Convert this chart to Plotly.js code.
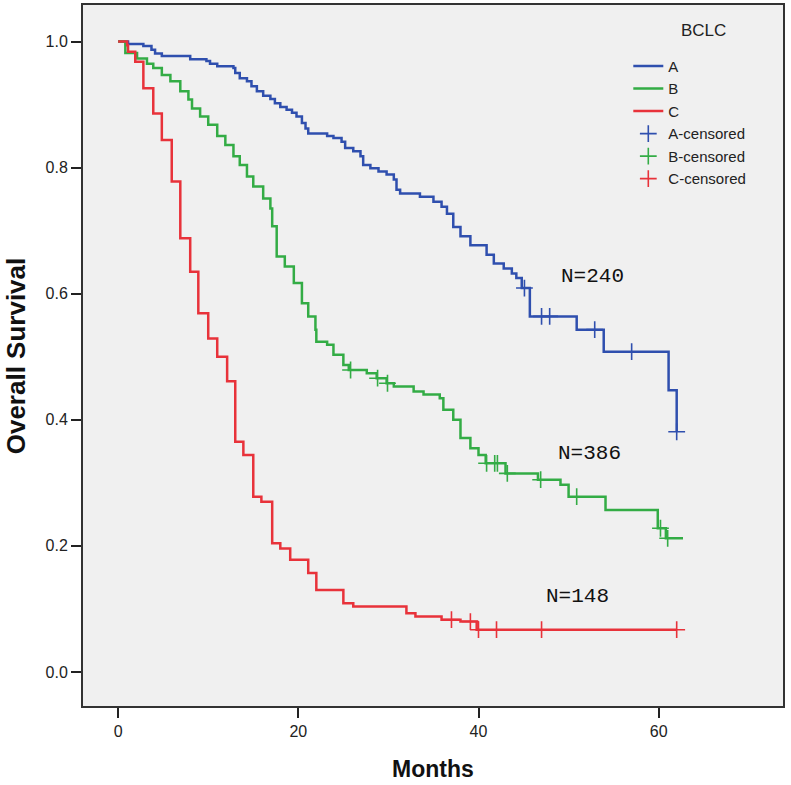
<!DOCTYPE html>
<html>
<head>
<meta charset="utf-8">
<script src="https://cdn.plot.ly/plotly-3.0.1.min.js"></script>
<style>
  body { margin: 0; background: #fff; }
  #chart { width: 791px; height: 785px; }
</style>
</head>
<body>
<div id="chart"></div>
<script>
// Kaplan-Meier estimates (months, survival)
var timesA = [0, 1.1, 2.8, 3.7, 4.1, 4.85, 8.0, 9.8, 10.2, 11.0, 12.8, 13.0, 13.5, 14.3, 14.8, 15.4, 16.1, 16.9, 17.4, 18.0,
              18.7, 19.3, 19.8, 20.4, 20.8, 21.1, 23.2, 23.9, 24.8, 25.2, 26.1, 26.9, 27.2, 28.0, 28.9, 29.8, 30.6, 30.9, 31.3, 33.5,
              35.0, 35.9, 36.5, 37.2, 38.0, 39.1, 40.9, 41.7, 42.8, 43.7, 44.2, 44.8, 45.7, 50.9, 53.9, 61.1, 62.0];
var survA  = [1.0, 0.996, 0.993, 0.987, 0.981, 0.977, 0.972, 0.969, 0.965, 0.961, 0.958, 0.950, 0.942, 0.937, 0.929, 0.921, 0.914, 0.909, 0.902, 0.896,
              0.892, 0.887, 0.881, 0.871, 0.862, 0.854, 0.850, 0.847, 0.841, 0.831, 0.826, 0.818, 0.804, 0.799, 0.794, 0.789, 0.781, 0.765, 0.759, 0.754,
              0.746, 0.738, 0.727, 0.706, 0.691, 0.677, 0.662, 0.648, 0.640, 0.632, 0.625, 0.609, 0.564, 0.543, 0.508, 0.447, 0.381];
var censA  = [45.1, 47.0, 47.9, 52.9, 57.0, 62.0];

var timesB = [0, 0.8, 2.1, 3.2, 3.9, 4.85, 5.8, 6.9, 7.8, 8.2, 9.1, 10.0, 11.0, 11.9, 12.8, 13.5, 14.3, 15.0, 16.1, 16.9,
              17.1, 17.6, 18.5, 19.5, 20.4, 21.1, 21.9, 22.0, 23.2, 23.9, 25.0, 25.6, 27.6, 28.7, 29.8, 30.6, 32.8, 33.9, 35.7, 36.1,
              37.2, 38.0, 39.1, 40.0, 40.8, 43.0, 46.6, 49.1, 50.0, 54.1, 59.9, 60.8, 62.7];
var survB  = [1.0, 0.982, 0.973, 0.965, 0.958, 0.947, 0.937, 0.921, 0.908, 0.894, 0.881, 0.868, 0.850, 0.836, 0.818, 0.804, 0.786, 0.770, 0.751, 0.735,
              0.707, 0.659, 0.643, 0.617, 0.585, 0.564, 0.543, 0.524, 0.519, 0.503, 0.487, 0.479, 0.474, 0.466, 0.458, 0.453, 0.445, 0.440, 0.434, 0.416,
              0.400, 0.371, 0.355, 0.344, 0.331, 0.315, 0.305, 0.297, 0.278, 0.257, 0.228, 0.212, 0.212];
var censB  = [25.8, 28.8, 29.9, 40.9, 41.8, 42.1, 43.2, 46.9, 50.9, 60.2, 61.0];

var timesC = [0, 1.0, 1.1, 1.9, 2.8, 3.9, 4.85, 5.95, 6.9, 8.0, 8.9, 10.0, 11.0, 12.1, 13.0, 13.9, 15.0, 15.9, 17.1, 18.0,
              19.1, 21.1, 22.0, 25.0, 26.1, 32.0, 33.0, 35.9, 38.0, 39.8, 62.0];
var survC  = [1.0, 0.994, 0.984, 0.968, 0.926, 0.886, 0.844, 0.778, 0.688, 0.635, 0.569, 0.529, 0.500, 0.461, 0.365, 0.344, 0.278, 0.270, 0.204, 0.196,
              0.178, 0.157, 0.130, 0.109, 0.104, 0.093, 0.088, 0.083, 0.080, 0.067, 0.067];
var censC  = [37.0, 39.1, 40.0, 42.0, 47.0, 62.0];

var groups = ['A', 'B', 'C'];
var nLabels = ['N=240', 'N=386', 'N=148'];
var colors = ['#2f4fae', '#33ac45', '#e8323a'];

// survival value of a step curve at time tt
function stepAt(t, s, tt) {
    var v = s[0];
    for (var i = 0; i < t.length; i++) {
        if (t[i] <= tt) v = s[i];
    }
    return v;
}

var curves = [[timesA, survA, censA], [timesB, survB, censB], [timesC, survC, censC]];
var data = [];

curves.forEach(function (c, i) {
    data.push({
        type: 'scatter', mode: 'lines', name: groups[i],
        x: c[0], y: c[1],
        line: {shape: 'hv', color: colors[i], width: 2.5}
    });
});
curves.forEach(function (c, i) {
    data.push({
        type: 'scatter', mode: 'markers', name: groups[i] + '-censored',
        x: c[2], y: c[2].map(function (tt) { return stepAt(c[0], c[1], tt); }),
        marker: {symbol: 'cross-thin', size: 12, line: {color: colors[i], width: 1.6}}
    });
});

var font = 'Liberation Sans, Arial, sans-serif';

var layout = {
    width: 791, height: 785,
    margin: {l: 83, r: 8, t: 5, b: 79},
    paper_bgcolor: '#ffffff',
    plot_bgcolor: '#f0f0f0',
    font: {family: font, color: '#222'},
    showlegend: true,
    xaxis: {
        range: [-3.9, 73.8],
        tickvals: [0, 20, 40, 60],
        ticks: 'outside', ticklen: 10, tickwidth: 2, tickcolor: '#222',
        showline: true, mirror: true, linecolor: '#333', linewidth: 2,
        showgrid: false, zeroline: false,
        tickfont: {size: 16, color: '#222'},
        title: {text: 'Months', font: {size: 23, weight: 'bold', color: '#111'}, standoff: 22}
    },
    yaxis: {
        range: [-0.054, 1.058],
        tickvals: [0, 0.2, 0.4, 0.6, 0.8, 1.0],
        tickformat: '.1f',
        ticks: 'outside', ticklen: 10, tickwidth: 2, tickcolor: '#222',
        showline: true, mirror: true, linecolor: '#333', linewidth: 2,
        showgrid: false, zeroline: false,
        tickfont: {size: 16, color: '#222'}
    },
    legend: {
        x: 0.779, y: 0.936, xanchor: 'left', yanchor: 'top',
        bgcolor: 'rgba(0,0,0,0)',
        font: {size: 15, color: '#222'}
    },
    annotations: [
        {x: 52.7, y: 0.627, text: nLabels[0]},
        {x: 52.3, y: 0.347, text: nLabels[1]},
        {x: 51.0, y: 0.120, text: nLabels[2]}
    ].map(function (a) {
        a.xref = 'x'; a.yref = 'y'; a.showarrow = false;
        a.font = {family: 'Liberation Mono, Courier New, monospace', size: 21, color: '#111'};
        return a;
    }).concat([{
        // legend heading
        xref: 'paper', yref: 'paper', x: 0.887, y: 0.964,
        xanchor: 'center', yanchor: 'middle', showarrow: false,
        text: 'BCLC', font: {size: 17, color: '#222'}
    }, {
        // y axis title, placed further left than the axis title would sit
        xref: 'paper', yref: 'paper', x: -0.096, y: 0.5,
        xanchor: 'center', yanchor: 'middle', showarrow: false, textangle: -90,
        text: 'Overall Survival', font: {size: 26, weight: 'bold', color: '#111'}
    }])
};

Plotly.newPlot('chart', data, layout, {displayModeBar: false, staticPlot: true});
</script>
</body>
</html>
